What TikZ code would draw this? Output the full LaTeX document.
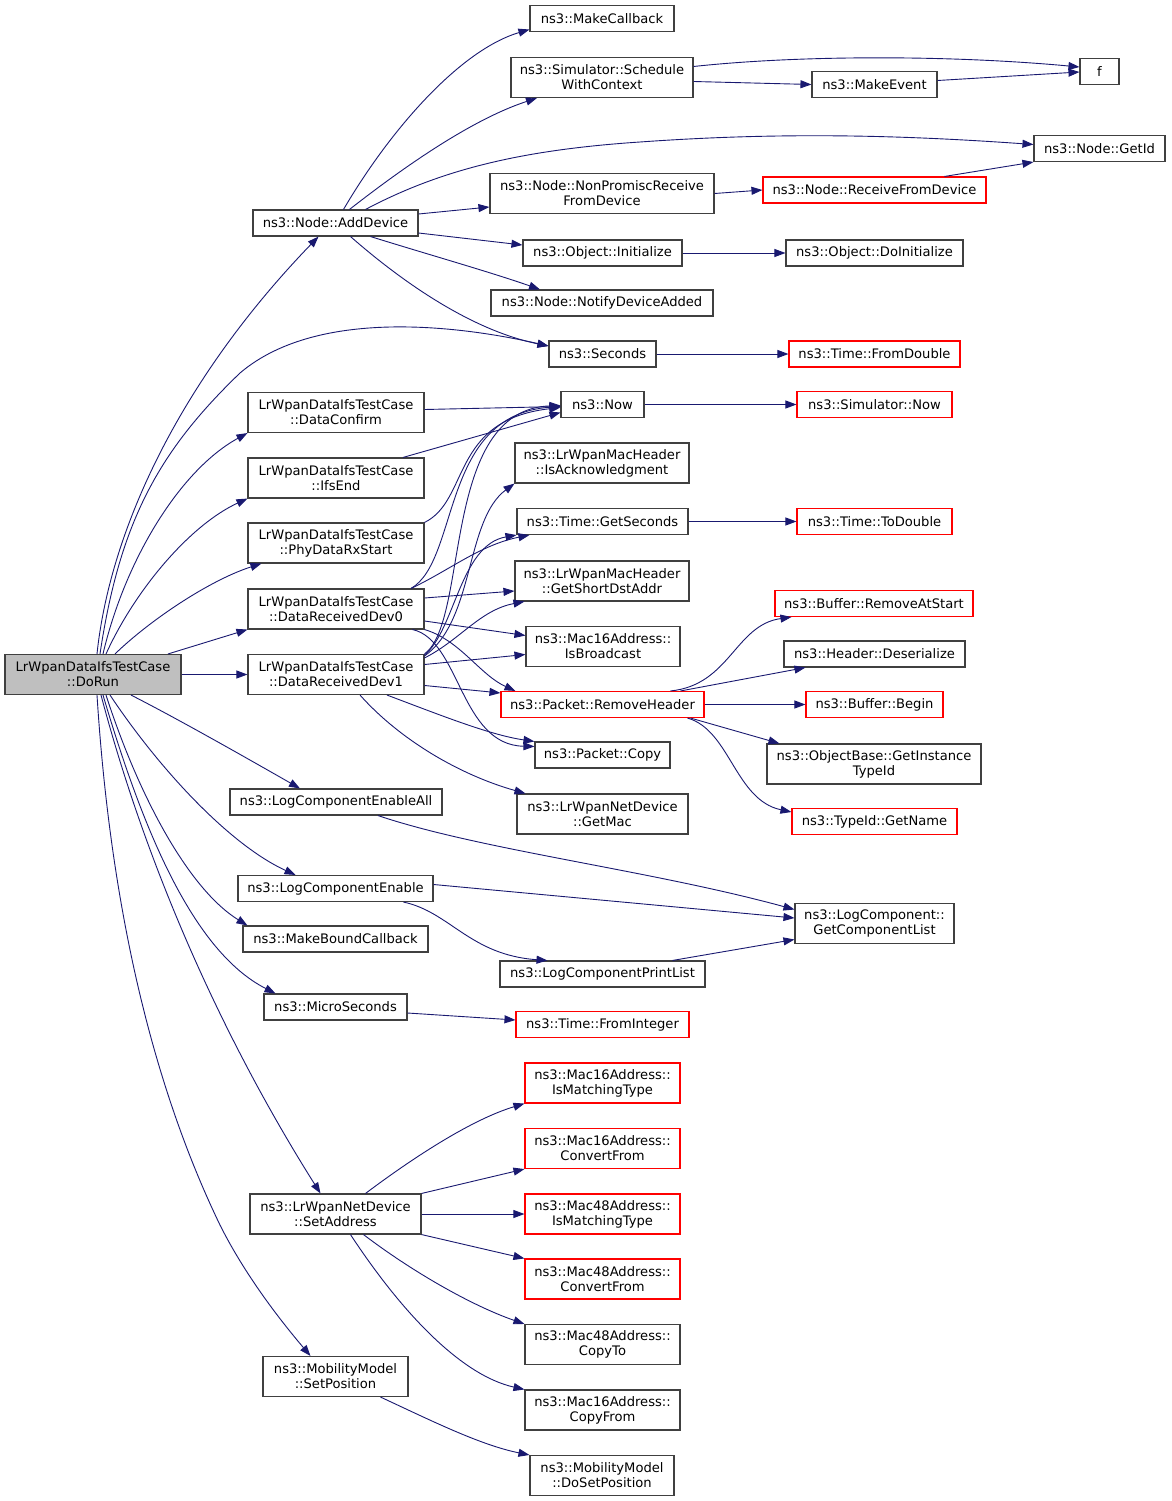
\documentclass[tikz,border=0pt]{standalone}
\usepackage{fontspec}
\setmainfont{DejaVu Sans}
\usetikzlibrary{arrows.meta}
\definecolor{grey25}{HTML}{404040}
\definecolor{grey75}{HTML}{BFBFBF}
\definecolor{midblue}{HTML}{191970}
\definecolor{undocred}{HTML}{FF0000}
\tikzset{fn/.style={rectangle,draw=grey25,line width=1.1pt,inner sep=0pt,align=center,minimum height=26pt,font=\fontsize{13.1}{15}\selectfont},
  twoline/.style={minimum height=40pt},
  undoc/.style={draw=undocred},
  focus/.style={fill=grey75},
  call/.style={-{Triangle[length=11pt,width=8pt]},draw=midblue,line width=0.9pt}}

\begin{document}
\begin{tikzpicture}[x=1pt,y=-1pt]
    \useasboundingbox (0,0) rectangle (1171,1501);

    % caller
    \node[fn,twoline,focus,minimum width=176pt] (dorun) at (93,674.5) {LrWpanDataIfsTestCase\\::DoRun};

    % first level
    \node[fn,minimum width=165pt] (adddevice) at (335.5,223) {ns3::Node::AddDevice};
    \node[fn,twoline,minimum width=176pt] (dataconfirm) at (336,412.5) {LrWpanDataIfsTestCase\\::DataConfirm};
    \node[fn,twoline,minimum width=176pt] (ifsend) at (336,478) {LrWpanDataIfsTestCase\\::IfsEnd};
    \node[fn,twoline,minimum width=176pt] (phydatarx) at (336,543) {LrWpanDataIfsTestCase\\::PhyDataRxStart};
    \node[fn,twoline,minimum width=176pt] (dev0) at (336,609) {LrWpanDataIfsTestCase\\::DataReceivedDev0};
    \node[fn,twoline,minimum width=176pt] (dev1) at (336,674.5) {LrWpanDataIfsTestCase\\::DataReceivedDev1};
    \node[fn,minimum width=212pt] (logenableall) at (336,802) {ns3::LogComponentEnableAll};
    \node[fn,minimum width=195pt] (logenable) at (335.5,888.5) {ns3::LogComponentEnable};
    \node[fn,minimum width=185pt] (makebound) at (335.5,939) {ns3::MakeBoundCallback};
    \node[fn,minimum width=143pt] (microseconds) at (335.5,1007) {ns3::MicroSeconds};
    \node[fn,twoline,minimum width=171pt] (setaddress) at (335.5,1214) {ns3::LrWpanNetDevice\\::SetAddress};
    \node[fn,twoline,minimum width=145pt] (setposition) at (335.5,1376.5) {ns3::MobilityModel\\::SetPosition};

    % second level
    \node[fn,minimum width=144pt] (makecallback) at (602,18.5) {ns3::MakeCallback};
    \node[fn,twoline,minimum width=182pt] (schedule) at (602,77.5) {ns3::Simulator::Schedule\\WithContext};
    \node[fn,twoline,minimum width=224pt] (nonpromisc) at (602,193.5) {ns3::Node::NonPromiscReceive\\FromDevice};
    \node[fn,minimum width=159pt] (initialize) at (602.5,253) {ns3::Object::Initialize};
    \node[fn,minimum width=222pt] (notifydevice) at (602,303) {ns3::Node::NotifyDeviceAdded};
    \node[fn,minimum width=107pt] (seconds) at (602.5,354) {ns3::Seconds};
    \node[fn,minimum width=83pt] (now) at (602.5,404.5) {ns3::Now};
    \node[fn,twoline,minimum width=174pt] (isack) at (602,463) {ns3::LrWpanMacHeader\\::IsAcknowledgment};
    \node[fn,minimum width=171pt] (getseconds) at (602.5,521.5) {ns3::Time::GetSeconds};
    \node[fn,twoline,minimum width=174pt] (getshortdst) at (602,581) {ns3::LrWpanMacHeader\\::GetShortDstAddr};
    \node[fn,twoline,minimum width=154pt] (isbroadcast) at (603,646.5) {ns3::Mac16Address::\\IsBroadcast};
    \node[fn,undoc,minimum width=203pt] (removeheader) at (602.5,704.5) {ns3::Packet::RemoveHeader};
    \node[fn,minimum width=135pt] (packetcopy) at (602.5,755) {ns3::Packet::Copy};
    \node[fn,twoline,minimum width=171pt] (getmac) at (602.5,814) {ns3::LrWpanNetDevice\\::GetMac};
    \node[fn,minimum width=205pt] (printlist) at (602.5,974) {ns3::LogComponentPrintList};
    \node[fn,undoc,minimum width=173pt] (frominteger) at (602.5,1024.5) {ns3::Time::FromInteger};
    \node[fn,twoline,undoc,minimum width=155pt] (m16ismatch) at (602.5,1083) {ns3::Mac16Address::\\IsMatchingType};
    \node[fn,twoline,undoc,minimum width=155pt] (m16convert) at (602.5,1148.5) {ns3::Mac16Address::\\ConvertFrom};
    \node[fn,twoline,undoc,minimum width=155pt] (m48ismatch) at (602.5,1214) {ns3::Mac48Address::\\IsMatchingType};
    \node[fn,twoline,undoc,minimum width=155pt] (m48convert) at (602.5,1279) {ns3::Mac48Address::\\ConvertFrom};
    \node[fn,twoline,minimum width=155pt] (m48copyto) at (602.5,1344.5) {ns3::Mac48Address::\\CopyTo};
    \node[fn,twoline,minimum width=155pt] (m16copyfrom) at (602.5,1410) {ns3::Mac16Address::\\CopyFrom};
    \node[fn,twoline,minimum width=144pt] (dosetposition) at (602,1475.5) {ns3::MobilityModel\\::DoSetPosition};

    % third level
    \node[fn,minimum width=39pt] (f) at (1099.5,71.5) {f};
    \node[fn,minimum width=125pt] (makeevent) at (874.5,84.5) {ns3::MakeEvent};
    \node[fn,minimum width=131pt] (getid) at (1099.5,148.5) {ns3::Node::GetId};
    \node[fn,undoc,minimum width=223pt] (receivefrom) at (874.5,190) {ns3::Node::ReceiveFromDevice};
    \node[fn,minimum width=177pt] (doinitialize) at (874.5,253) {ns3::Object::DoInitialize};
    \node[fn,undoc,minimum width=171pt] (fromdouble) at (874.5,354) {ns3::Time::FromDouble};
    \node[fn,undoc,minimum width=155pt] (simnow) at (874.5,404.5) {ns3::Simulator::Now};
    \node[fn,undoc,minimum width=155pt] (todouble) at (874.5,521.5) {ns3::Time::ToDouble};
    \node[fn,undoc,minimum width=198pt] (removeatstart) at (874,603.5) {ns3::Buffer::RemoveAtStart};
    \node[fn,minimum width=181pt] (deserialize) at (874.5,654) {ns3::Header::Deserialize};
    \node[fn,undoc,minimum width=137pt] (bufbegin) at (874.5,704.5) {ns3::Buffer::Begin};
    \node[fn,twoline,minimum width=214pt] (getinstance) at (874,764) {ns3::ObjectBase::GetInstance\\TypeId};
    \node[fn,undoc,minimum width=165pt] (getname) at (874.5,821.5) {ns3::TypeId::GetName};
    \node[fn,twoline,minimum width=159pt] (getcomplist) at (874.5,923.5) {ns3::LogComponent::\\GetComponentList};

    % calls of DoRun
    \draw[call] ([xshift=4]dorun.north) .. controls (110,530) and (180,380) .. ([xshift=-17]adddevice.south);
    \draw[call] ([xshift=7]dorun.north) .. controls (120,520) and (160,450) .. (240,373) .. controls (320,305) and (470,328) .. ([yshift=8]seconds.west);
    \draw[call] ([xshift=10]dorun.north) .. controls (125,560) and (180,470) .. (dataconfirm.south west);
    \draw[call] ([xshift=13]dorun.north) .. controls (135,590) and (190,525) .. (ifsend.south west);
    \draw[call] ([xshift=22]dorun.north) .. controls (150,620) and (210,580) .. ([xshift=14]phydatarx.south west);
    \draw[call] ([xshift=75]dorun.north) -- (dev0.south west);
    \draw[call] (dorun.east) -- (dev1.west);
    \draw[call] ([xshift=38]dorun.south) .. controls (180,720) and (250,760) .. ([xshift=-36]logenableall.north);
    \draw[call] ([xshift=17]dorun.south) .. controls (160,770) and (230,845) .. ([xshift=-40]logenable.north);
    \draw[call] ([xshift=13]dorun.south) .. controls (140,800) and (190,890) .. ([xshift=5]makebound.north west);
    \draw[call] ([xshift=10]dorun.south) .. controls (140,820) and (190,950) .. ([xshift=-60]microseconds.north);
    \draw[call] ([xshift=8]dorun.south) .. controls (150,880) and (230,1050) .. ([xshift=-15]setaddress.north);
    \draw[call] ([xshift=4]dorun.south) .. controls (110,900) and (150,1080) .. (220,1225) .. controls (245,1275) and (280,1320) .. ([xshift=-25]setposition.north);

    % calls of AddDevice
    \draw[call] ([xshift=8]adddevice.north) .. controls (390,130) and (460,50) .. ([yshift=-11]makecallback.west);
    \draw[call] ([xshift=14]adddevice.north) .. controls (400,170) and (470,120) .. ([xshift=-65]schedule.south);
    \draw[call] ([xshift=30]adddevice.north) .. controls (440,170) and (520,150) .. (640,142) .. controls (780,132) and (900,135) .. ([yshift=4]getid.west);
    \draw[call] ([yshift=9]adddevice.east) -- ([yshift=-13.5]nonpromisc.west);
    \draw[call] ([yshift=-10]adddevice.east) -- ([yshift=8]initialize.west);
    \draw[call] ([xshift=35]adddevice.south) .. controls (430,255) and (490,272) .. ([xshift=-62]notifydevice.north);
    \draw[call] ([xshift=15]adddevice.south) .. controls (400,280) and (470,330) .. ([yshift=8]seconds.west);

    \draw[call] ([yshift=11]schedule.east) .. controls (800,55) and (950,55) .. ([yshift=4.5]f.west);
    \draw[call] ([yshift=-4]schedule.east) -- (makeevent.west);
    \draw[call] ([yshift=4]makeevent.east) -- ([yshift=-0.5]f.west);
    \draw[call] (nonpromisc.east) -- (receivefrom.west);
    \draw[call] ([xshift=70]receivefrom.north) -- (getid.south west);
    \draw[call] (initialize.east) -- (doinitialize.west);
    \draw[call] (seconds.east) -- (fromdouble.west);

    % calls of the test case callbacks
    \draw[call] ([yshift=3]dataconfirm.east) -- ([yshift=-2]now.west);
    \draw[call] (now.east) -- (simnow.west);
    \draw[call] ([xshift=67]ifsend.north) -- ([yshift=-8]now.west);
    \draw[call] (phydatarx.north east) .. controls (470,500) and (450,420) .. ([yshift=-3]now.west);
    \draw[call] ([xshift=75]dev0.north) .. controls (460,560) and (440,415) .. ([yshift=-2]now.west);
    \draw[call] ([xshift=75]dev0.north) .. controls (450,570) and (480,545) .. ([xshift=13]getseconds.south west);
    \draw[call] ([yshift=11]dev0.east) -- ([yshift=-10]getshortdst.west);
    \draw[call] ([yshift=-12]dev0.east) -- ([yshift=11]isbroadcast.west);
    \draw[call] (dev0.south east) .. controls (460,640) and (480,675) .. ([xshift=15]removeheader.north west);
    \draw[call] ([xshift=-12]dev0.south east) .. controls (460,640) and (460,745) .. ([yshift=-5]packetcopy.north west);
    \draw[call] (dev1.north east) .. controls (470,620) and (440,410) .. ([yshift=-1]now.west);
    \draw[call] ([yshift=-2]dev1.north east) .. controls (475,620) and (465,520) .. (isack.south west);
    \draw[call] ([yshift=-1]dev1.north east) .. controls (455,630) and (460,545) .. (getseconds.south west);
    \draw[call] ([yshift=-4]dev1.north east) .. controls (460,640) and (480,610) .. ([xshift=10]getshortdst.south west);
    \draw[call] ([yshift=10]dev1.east) -- ([yshift=-8]isbroadcast.west);
    \draw[call] ([yshift=-11]dev1.east) -- ([yshift=-2]removeheader.north west);
    \draw[call] ([xshift=51]dev1.south) .. controls (440,715) and (490,735) .. (packetcopy.north west);
    \draw[call] ([xshift=24]dev1.south) .. controls (400,740) and (460,775) .. ([xshift=9]getmac.north west);
    \draw[call] (getseconds.east) -- (todouble.west);

    % calls of RemoveHeader
    \draw[call] ([xshift=68]removeheader.north) .. controls (730,685) and (735,625) .. ([xshift=17]removeatstart.south west);
    \draw[call] ([xshift=78]removeheader.north) -- ([xshift=22]deserialize.south west);
    \draw[call] (removeheader.east) -- (bufbegin.west);
    \draw[call] ([xshift=88]removeheader.south) -- ([xshift=13]getinstance.north west);
    \draw[call] ([xshift=85]removeheader.south) .. controls (730,730) and (735,800) .. ([yshift=9.5]getname.west);

    % logging
    \draw[call] ([xshift=42]logenableall.south) .. controls (480,850) and (650,870) .. ([yshift=14]getcomplist.west);
    \draw[call] ([yshift=4]logenable.east) -- ([yshift=5.5]getcomplist.west);
    \draw[call] ([xshift=68]logenable.south) .. controls (450,912) and (470,955) .. ([xshift=-55]printlist.north);
    \draw[call] ([xshift=70]printlist.north) -- ([yshift=-16]getcomplist.west);
    \draw[call] ([yshift=-6]microseconds.east) -- ([yshift=4.5]frominteger.west);

    % calls of SetAddress and SetPosition
    \draw[call] ([xshift=30]setaddress.north) .. controls (410,1160) and (470,1120) .. (m16ismatch.south west);
    \draw[call] (setaddress.north east) -- (m16convert.south west);
    \draw[call] (setaddress.east) -- (m48ismatch.west);
    \draw[call] (setaddress.south east) -- (m48convert.north west);
    \draw[call] ([xshift=28]setaddress.south) .. controls (410,1270) and (470,1305) .. (m48copyto.north west);
    \draw[call] ([xshift=15]setaddress.south) .. controls (400,1310) and (460,1375) .. (m16copyfrom.north west);
    \draw[call] ([xshift=45]setposition.south) .. controls (430,1420) and (480,1445) .. (dosetposition.north west);
\end{tikzpicture}
\end{document}
